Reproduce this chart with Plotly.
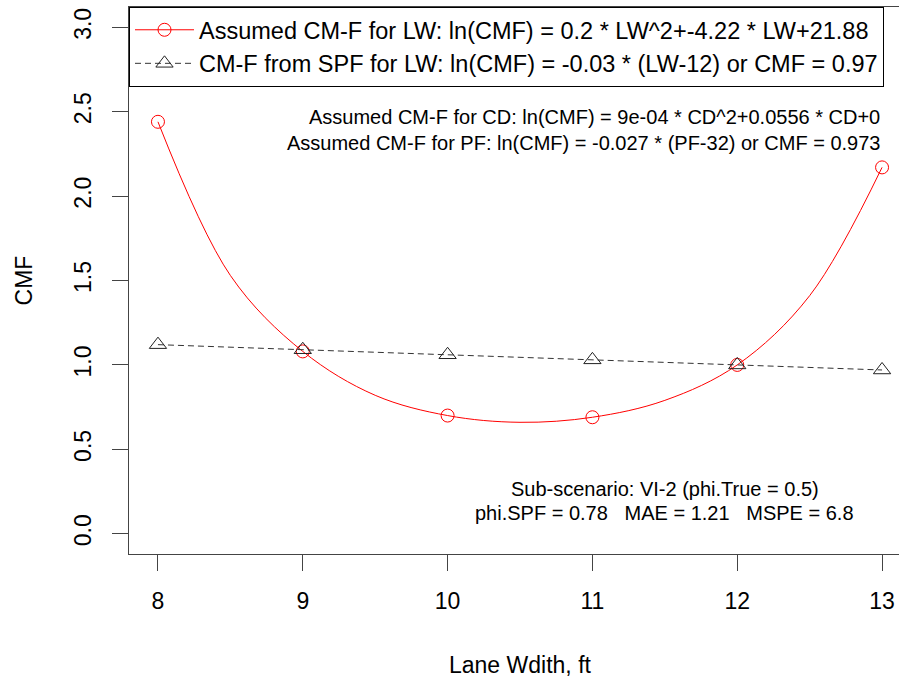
import plotly.graph_objects as go

# ---- data ----
lane_width = [8, 9, 10, 11, 12, 13]
cmf_assumed_pts = [2.44, 1.08, 0.70, 0.69, 1.00, 2.17]
curve_lw = [8, 8.5, 9, 9.5, 10, 10.5, 11, 11.5, 12, 12.5, 13]
curve_cmf = [2.44, 1.53, 1.08, 0.82, 0.70, 0.66, 0.69, 0.79, 1.00, 1.41, 2.17]
cmf_spf = [1.12, 1.09, 1.06, 1.03, 1.00, 0.97]
x_ticks = [8, 9, 10, 11, 12, 13]
y_ticks = [0.0, 0.5, 1.0, 1.5, 2.0, 2.5, 3.0]
y_tick_labels = ["0.0", "0.5", "1.0", "1.5", "2.0", "2.5", "3.0"]

legend_red = "Assumed CM-F for LW: ln(CMF) = 0.2 * LW^2+-4.22 * LW+21.88"
legend_black = "CM-F from SPF for LW: ln(CMF) = -0.03 * (LW-12) or CMF = 0.97"
note_cd = "Assumed CM-F for CD: ln(CMF) = 9e-04 * CD^2+0.0556 * CD+0"
note_pf = "Assumed CM-F for PF: ln(CMF) = -0.027 * (PF-32) or CMF = 0.973"
sub1 = "Sub-scenario: VI-2 (phi.True = 0.5)"
sub2 = "phi.SPF = 0.78   MAE = 1.21   MSPE = 6.8"

FONT = "Liberation Sans, Arial, sans-serif"
AX = "#444444"

fig = go.Figure()

# red smooth curve (no legend)
fig.add_trace(go.Scatter(
    x=curve_lw, y=curve_cmf, mode="lines",
    line=dict(color="red", width=1, shape="spline", smoothing=1.0),
    showlegend=False, hoverinfo="skip"))
# red points
fig.add_trace(go.Scatter(
    x=lane_width, y=cmf_assumed_pts, mode="markers",
    marker=dict(symbol="circle-open", size=13, color="red", line=dict(width=1)),
    name=legend_red, showlegend=False))
# legend proxy for red
fig.add_trace(go.Scatter(
    x=[None], y=[None], mode="lines+markers",
    line=dict(color="red", width=1),
    marker=dict(symbol="circle-open", size=13, color="red", line=dict(width=1)),
    name=legend_red))
# black dashed SPF line
fig.add_trace(go.Scatter(
    x=lane_width, y=cmf_spf, mode="lines+markers",
    line=dict(color="#333333", width=1, dash="6px,4px"),
    marker=dict(symbol="triangle-up-open", size=15, color="#222222", line=dict(width=1)),
    name=legend_black))

NOTE = 20
ann = [
    dict(x=13, y=2.467, xref="x", yref="y", text=note_cd, showarrow=False,
         xanchor="right", yanchor="middle", font=dict(size=NOTE, color="black", family=FONT)),
    dict(x=13, y=2.314, xref="x", yref="y", text=note_pf, showarrow=False,
         xanchor="right", yanchor="middle", font=dict(size=NOTE, color="black", family=FONT)),
    dict(x=11.5, y=0.266, xref="x", yref="y", text=sub1, showarrow=False,
         xanchor="center", yanchor="middle", font=dict(size=NOTE, color="black", family=FONT)),
    dict(x=11.5, y=0.124, xref="x", yref="y", text=sub2, showarrow=False,
         xanchor="center", yanchor="middle", font=dict(size=NOTE, color="black", family=FONT)),
    dict(x=10.5, y=-0.203, xref="x", yref="paper", text="Lane Wdith, ft", showarrow=False,
         xanchor="center", yanchor="middle", font=dict(size=23, color="black", family=FONT)),
    dict(x=-0.1364, y=0.5, xref="paper", yref="paper", text="CMF", showarrow=False,
         textangle=-90, xanchor="center", yanchor="middle",
         font=dict(size=23, color="black", family=FONT)),
]

fig.update_layout(
    width=899, height=679,
    margin=dict(l=129, r=0, t=7, b=125),
    paper_bgcolor="white", plot_bgcolor="white",
    font=dict(family=FONT, size=23, color="black"),
    annotations=ann,
    showlegend=True,
    legend=dict(x=0, y=1, xanchor="left", yanchor="top",
                bgcolor="white", bordercolor="black", borderwidth=1,
                font=dict(size=23.5, family=FONT, color="black"),
                itemwidth=59, tracegroupgap=0),
)
fig.update_xaxes(
    range=[7.8, 13.117], tickmode="array", tickvals=x_ticks,
    ticks="outside", ticklen=16, tickcolor=AX, tickwidth=1,
    showline=True, linecolor=AX, linewidth=1, mirror=True,
    showgrid=False, zeroline=False,
    tickfont=dict(size=23, family=FONT, color="black"),
    ticklabelstandoff=10)
fig.update_yaxes(
    range=[-0.12, 3.12], tickmode="array", tickvals=y_ticks, ticktext=y_tick_labels,
    tickangle=-90,
    ticks="outside", ticklen=16, tickcolor=AX, tickwidth=1,
    showline=True, linecolor=AX, linewidth=1, mirror=False,
    showgrid=False, zeroline=False,
    tickfont=dict(size=23, family=FONT, color="black"),
    ticklabelstandoff=12)

fig.write_html("out.html")
